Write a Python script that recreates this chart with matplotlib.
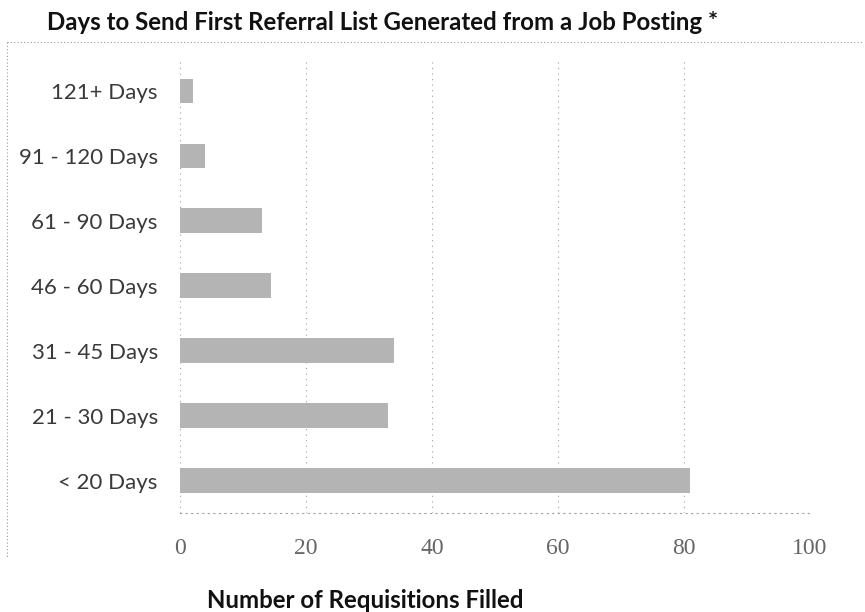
import matplotlib
matplotlib.use("Agg")
import matplotlib.pyplot as plt
from matplotlib.lines import Line2D

categories = ["< 20 Days", "21 - 30 Days", "31 - 45 Days", "46 - 60 Days",
              "61 - 90 Days", "91 - 120 Days", "121+ Days"]
values = [81, 33, 34, 14.5, 13, 4, 2]
xticks = [0, 20, 40, 60, 80, 100]

W, H = 865, 612
fig = plt.figure(figsize=(W / 100, H / 100), dpi=100)
ax = fig.add_axes([180 / W, 1 - 513 / H, (810 - 180) / W, (513 - 58.5) / H])

ypos = list(range(len(categories)))
ax.barh(ypos, values, height=0.38, color="#b4b4b4", edgecolor="none", zorder=3)

ax.set_xlim(0, 100)
ax.set_ylim(-0.5, len(categories) - 0.5)
ax.set_yticks(ypos)
ax.set_yticklabels(categories, fontfamily="Lato", fontsize=16, color="#3a3a3a")
ax.set_xticks(xticks)
ax.set_xticklabels([str(t) for t in xticks], fontfamily="Liberation Serif",
                   fontsize=17, color="#666666")
ax.tick_params(axis="both", length=0)
ax.tick_params(axis="y", pad=16)
ax.tick_params(axis="x", pad=18)

for s in ["top", "right", "left"]:
    ax.spines[s].set_visible(False)
ax.spines["bottom"].set_linestyle((0, (1, 4)))
ax.spines["bottom"].set_color("#a0a0a0")
ax.spines["bottom"].set_linewidth(0.8)

ax.xaxis.grid(True, linestyle=(0, (1, 4)), color="#a0a0a0", linewidth=0.8, zorder=0)
ax.set_axisbelow(True)

# outer chart border (dotted)
fig.add_artist(Line2D([7 / W, 862 / W], [1 - 42 / H, 1 - 42 / H], transform=fig.transFigure,
                      linestyle=(0, (1, 2)), color="#9a9a9a", linewidth=0.8))
fig.add_artist(Line2D([7 / W, 7 / W], [1 - 42 / H, 1 - 557 / H], transform=fig.transFigure,
                      linestyle=(0, (1, 2)), color="#9a9a9a", linewidth=0.8))

fig.text(47 / W, 1 - 22 / H, "Days to Send First Referral List Generated from a Job Posting *",
         fontfamily="Lato", fontweight="bold", fontsize=17.3, color="#111111",
         ha="left", va="center")
fig.text(207 / W, 1 - 600 / H, "Number of Requisitions Filled",
         fontfamily="Lato", fontweight="bold", fontsize=17.3, color="#111111",
         ha="left", va="center")

fig.savefig("out.png", dpi=100, facecolor="white")
